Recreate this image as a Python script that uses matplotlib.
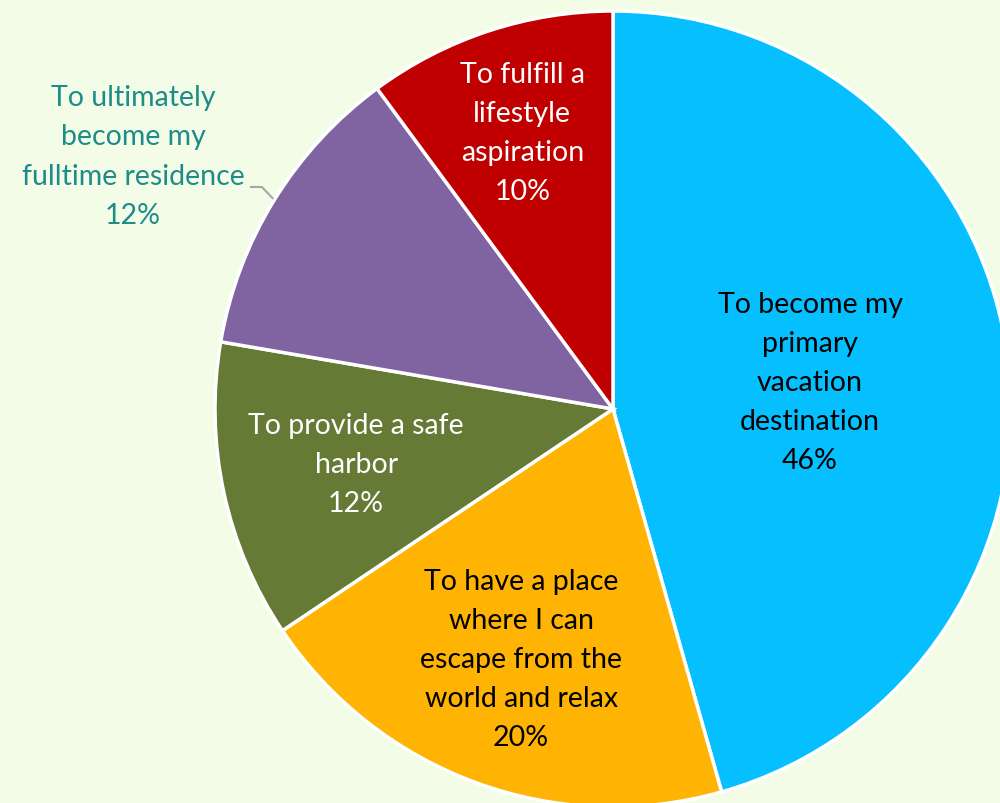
import numpy as np
import matplotlib.pyplot as plt

# survey shares, clockwise from 12 o'clock
labels = [
    "To become my\nprimary\nvacation\ndestination",
    "To have a place\nwhere I can\nescape from the\nworld and relax",
    "To provide a safe\nharbor",
    "To ultimately\nbecome my\nfulltime residence",
    "To fulfill a\nlifestyle\naspiration",
]
shares = [45.6, 20.0, 12.1, 12.2, 10.1]
pct_labels = ["46%", "20%", "12%", "12%", "10%"]
colors = ["#05BFFF", "#FFB404", "#647A35", "#8064A2", "#C00000"]
text_colors = ["black", "black", "white", "#1E8C88", "white"]
label_r = [0.50, 0.67, 0.66, None, 0.73]

bg = "#F3FCE6"
fig = plt.figure(figsize=(10, 8.04), dpi=100, facecolor=bg)
ax = fig.add_axes([0, 0, 1, 1])
ax.set_facecolor(bg)

cx, cy, R = 613, 394, 398
wedges, _ = ax.pie(shares, colors=colors, startangle=90, counterclock=False,
                   center=(cx, cy), radius=R, frame=True,
                   wedgeprops=dict(edgecolor="white", linewidth=2.5))
ax.set_xlim(0, 1000)
ax.set_ylim(0, 804)
ax.set_aspect("equal")
ax.axis("off")

font = "Lato"
fs = 20.5
ls = 1.62
for w, lab, pct, tc, fr in zip(wedges, labels, pct_labels, text_colors, label_r):
    mid = np.deg2rad((w.theta1 + w.theta2) / 2)
    txt = f"{lab}\n{pct}"
    if fr is None:
        # outside label with a short elbow leader line
        ex, ey = cx + R * np.cos(mid), cy + R * np.sin(mid)
        ax.text(133, 647, txt, ha="center", va="center", fontsize=fs,
                color=tc, family=font, linespacing=ls)
        ax.plot([250, 262, ex - 1, ], [616, 616, ey + 1],
                color="#A6A6A6", lw=1.5, solid_capstyle="butt")
        continue
    x = cx + fr * R * np.cos(mid)
    y = cy + fr * R * np.sin(mid)
    ax.text(x, y, txt, ha="center", va="center", fontsize=fs, color=tc,
            family=font, linespacing=ls)

fig.savefig("out.png", dpi=100, facecolor=bg)
